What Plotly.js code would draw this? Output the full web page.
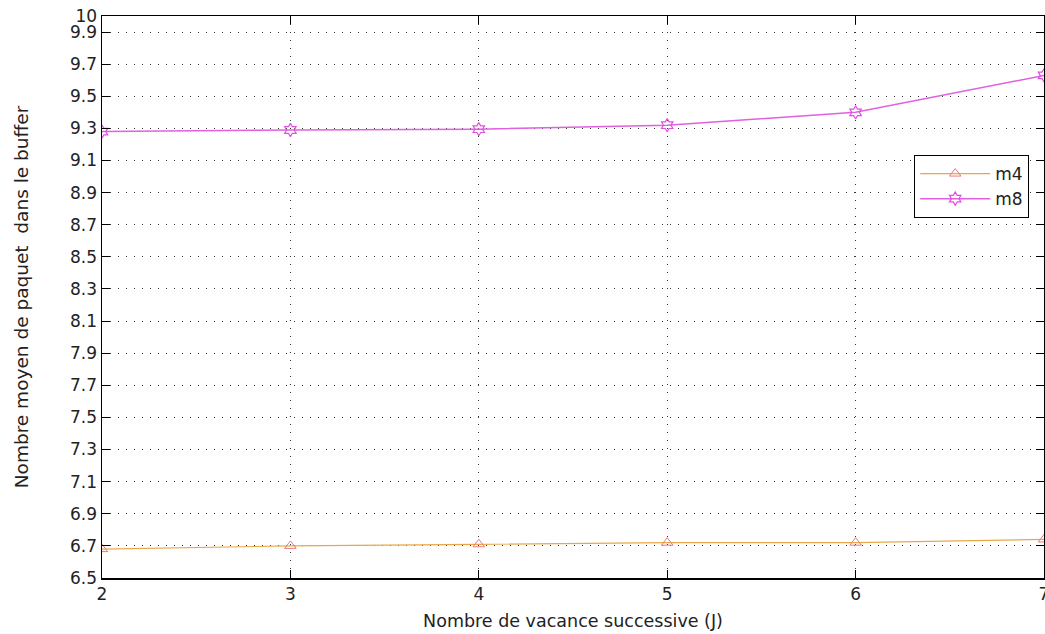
<!DOCTYPE html>
<html>
<head>
<meta charset="utf-8">
<script src="https://cdn.plot.ly/plotly-3.0.1.min.js"></script>
<style>html,body{margin:0;padding:0;background:#fff;}#chart{width:1045px;height:634px;}</style>
</head>
<body>
<div id="chart"></div>
<script>
const xJ = [2, 3, 4, 5, 6, 7];
const m4 = [6.68, 6.70, 6.71, 6.72, 6.72, 6.74];
const m8 = [9.28, 9.29, 9.295, 9.32, 9.40, 9.63];
const yTickVals = [6.5, 6.7, 6.9, 7.1, 7.3, 7.5, 7.7, 7.9, 8.1, 8.3, 8.5, 8.7, 8.9, 9.1, 9.3, 9.5, 9.7, 9.9, 10];
const yTickText = ["6.5", "6.7", "6.9", "7.1", "7.3", "7.5", "7.7", "7.9", "8.1", "8.3", "8.5", "8.7", "8.9", "9.1", "9.3", "9.5", "9.7", "9.9", "10"];
const xTickVals = [2, 3, 4, 5, 6, 7];

const traces = [
  {x: xJ, y: m4, name: 'm4', mode: 'lines+markers',
   line: {color: '#e8a84a', width: 1.2},
   marker: {symbol: 'triangle-up-open', size: 10, color: '#e87a7a', line: {width: 1}}},
  {x: xJ, y: m8, name: 'm8', mode: 'lines+markers',
   line: {color: '#e060e0', width: 1.5},
   marker: {symbol: 'hexagram-open', size: 10, color: '#e050e0', line: {width: 1.2}}}
];

const fam = 'DejaVu Sans, Liberation Sans, sans-serif';
const axisFont = {family: fam, size: 17, color: '#222'};
const layout = {
  width: 1045, height: 634,
  margin: {l: 102, r: 1, t: 16, b: 56},
  paper_bgcolor: '#fff', plot_bgcolor: '#fff',
  showlegend: true,
  legend: {x: 0.862, y: 0.753, xanchor: 'left', yanchor: 'top',
    bgcolor: '#fff', bordercolor: '#000', borderwidth: 1.2,
    font: {family: fam, size: 17, color: '#222'},
    tracegroupgap: 2, itemwidth: 70},
  xaxis: {range: [2, 7], tickvals: xTickVals, ticktext: xTickVals.map(String),
    ticks: 'inside', ticklen: 8, tickcolor: '#000', ticklabeloverflow: 'allow',
    showline: true, linecolor: '#000', linewidth: 1.5, mirror: 'ticks',
    showgrid: true, gridcolor: '#333', griddash: '1px,7px', gridwidth: 1,
    zeroline: false, tickfont: axisFont,
    title: {text: 'Nombre de vacance successive (J)', font: {family: fam, size: 17.5, color: '#222'}, standoff: 12}},
  yaxis: {range: [6.5, 10], tickvals: yTickVals, ticktext: yTickText,
    ticks: 'inside', ticklen: 8, tickcolor: '#000',
    showline: true, linecolor: '#000', linewidth: 1.5, mirror: 'ticks',
    showgrid: true, gridcolor: '#333', griddash: '1px,7px', gridwidth: 1,
    zeroline: false, tickfont: axisFont,
    title: {text: 'Nombre moyen de paquet  dans le buffer', font: {family: fam, size: 18.5, color: '#222'}, standoff: 36}}
};

Plotly.newPlot('chart', traces, layout, {staticPlot: true, displayModeBar: false});
</script>
</body>
</html>
